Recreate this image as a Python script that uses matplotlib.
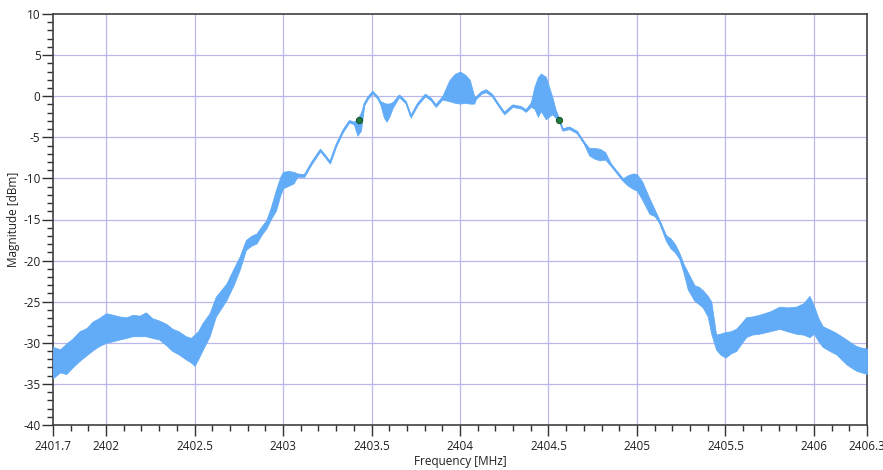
import numpy as np
import matplotlib
matplotlib.use("Agg")
import matplotlib.pyplot as plt
from matplotlib.ticker import MultipleLocator, FixedLocator

plt.rcParams['font.family'] = ['Open Sans', 'DejaVu Sans']
plt.rcParams['axes.unicode_minus'] = False

# spectrum trace: frequency, upper and lower edge of the noisy band
freq = [2401.700, 2401.740, 2401.775, 2401.810, 2401.850, 2401.890, 2401.925, 2401.960,
        2402.000, 2402.040, 2402.075, 2402.115, 2402.150, 2402.190, 2402.225, 2402.260,
        2402.300, 2402.340, 2402.375, 2402.410, 2402.450, 2402.480, 2402.500, 2402.520,
        2402.545, 2402.585, 2402.620, 2402.650, 2402.680, 2402.720, 2402.755, 2402.790,
        2402.820, 2402.850, 2402.880, 2402.905, 2402.930, 2402.960, 2402.985, 2403.000,
        2403.030, 2403.060, 2403.080, 2403.120, 2403.160, 2403.210, 2403.240, 2403.265,
        2403.300, 2403.340, 2403.374, 2403.400, 2403.420, 2403.440, 2403.459, 2403.480,
        2403.505, 2403.534, 2403.550, 2403.570, 2403.585, 2403.600, 2403.620, 2403.656,
        2403.694, 2403.722, 2403.760, 2403.803, 2403.835, 2403.863, 2403.900, 2403.940,
        2403.970, 2404.000, 2404.030, 2404.055, 2404.080, 2404.090, 2404.120, 2404.146,
        2404.180, 2404.220, 2404.250, 2404.297, 2404.344, 2404.372, 2404.400, 2404.420,
        2404.440, 2404.457, 2404.485, 2404.520, 2404.540, 2404.560, 2404.580, 2404.617,
        2404.660, 2404.700, 2404.730, 2404.760, 2404.790, 2404.820, 2404.853, 2404.890,
        2404.920, 2404.950, 2404.980, 2405.000, 2405.030, 2405.070, 2405.100, 2405.126,
        2405.164, 2405.190, 2405.215, 2405.240, 2405.265, 2405.287, 2405.325, 2405.350,
        2405.372, 2405.400, 2405.420, 2405.447, 2405.470, 2405.500, 2405.530, 2405.560,
        2405.590, 2405.617, 2405.650, 2405.690, 2405.750, 2405.806, 2405.850, 2405.900,
        2405.940, 2405.975, 2406.000, 2406.025, 2406.050, 2406.090, 2406.126, 2406.155,
        2406.183, 2406.210, 2406.240, 2406.270, 2406.300]
upper = [-30.5, -30.8, -30.1, -29.5, -28.6, -28.2, -27.4, -27.0,
         -26.4, -26.6, -26.8, -26.9, -26.6, -26.7, -26.3, -27.0,
         -27.3, -27.7, -28.3, -28.6, -29.2, -29.4, -29.0, -28.6,
         -27.6, -26.4, -24.4, -23.6, -22.8, -21.0, -19.5, -17.5,
         -17.0, -16.7, -15.8, -15.1, -13.6, -11.4, -9.8, -9.2,
         -9.1, -9.2, -9.4, -9.5, -8.0, -6.4, -7.2, -7.9,
         -5.8, -4.0, -2.9, -3.1, -2.8, -2.0, -0.8, 0.0,
         0.65, 0.0, -0.6, -0.8, -0.9, -0.9, -0.7, 0.2,
         -0.6, -2.3, -0.8, 0.3, -0.2, -1.0, 0.0, 1.95,
         2.7, 3.0, 2.6, 2.0, 0.0, -0.05, 0.6, 0.85,
         0.3, -1.0, -1.9, -1.0, -1.2, -1.6, -0.8, 1.1,
         2.3, 2.75, 2.35, 0.0, -1.6, -2.7, -3.9, -3.7,
         -4.2, -5.5, -6.3, -6.3, -6.4, -6.8, -8.2, -9.2,
         -10.0, -9.6, -9.4, -9.5, -10.4, -12.4, -13.8, -15.0,
         -16.9, -17.3, -18.0, -19.1, -20.5, -21.4, -23.0, -23.2,
         -23.6, -24.3, -25.0, -29.0, -28.9, -28.7, -28.6, -28.3,
         -27.6, -26.9, -26.8, -26.6, -26.2, -25.6, -25.7, -25.6,
         -25.2, -24.3, -25.5, -27.0, -28.0, -28.4, -28.8, -29.2,
         -29.6, -30.0, -30.4, -30.6, -30.7]
lower = [-34.3, -33.6, -33.8, -33.0, -32.2, -31.5, -30.9, -30.4,
         -30.0, -29.8, -29.6, -29.4, -29.2, -29.2, -29.2, -29.4,
         -29.6, -30.3, -31.0, -31.4, -32.0, -32.4, -32.8, -32.0,
         -30.9, -29.2, -26.8, -25.8, -24.8, -23.0, -21.1, -18.7,
         -18.2, -17.9, -16.8, -16.1, -15.0, -13.9, -12.0, -11.2,
         -10.9, -10.6, -9.8, -9.8, -8.3, -6.7, -7.5, -8.2,
         -6.1, -4.3, -3.2, -3.4, -4.8, -4.2, -1.1, -0.3,
         0.35, -0.3, -1.0, -2.6, -3.1, -2.5, -1.4, -0.1,
         -0.9, -2.6, -1.1, 0.0, -0.5, -1.3, -0.4, -0.6,
         -0.8, -0.9, -0.8, -0.9, -0.9, -0.35, 0.3, 0.5,
         0.0, -1.3, -2.2, -1.3, -1.5, -1.9, -1.3, -1.5,
         -2.5, -1.8, -2.8, -2.2, -2.6, -3.0, -4.2, -4.0,
         -4.5, -5.8, -7.2, -7.6, -7.8, -7.7, -8.5, -9.5,
         -10.3, -10.9, -11.3, -11.5, -12.6, -14.3, -14.6, -15.4,
         -17.6, -18.5, -19.0, -19.8, -21.6, -23.5, -24.9, -25.3,
         -25.7, -26.8, -28.9, -30.8, -31.4, -31.8, -31.3, -31.0,
         -30.1, -29.3, -29.0, -28.9, -28.6, -28.3, -28.6, -28.9,
         -29.0, -29.3, -28.9, -29.8, -30.5, -31.0, -31.4, -32.0,
         -32.6, -33.0, -33.4, -33.6, -33.8]

# the two green markers
marker_f = [2403.43, 2404.56]
marker_v = [-2.9, -2.85]

x_ticks = [2401.7, 2402, 2402.5, 2403, 2403.5, 2404, 2404.5, 2405, 2405.5, 2406, 2406.3]
x_labels = ['2401.7', '2402', '2402.5', '2403', '2403.5', '2404', '2404.5',
            '2405', '2405.5', '2406', '2406.3']

trace_col = '#62abf7'
grid_col = '#b8b8ec'

fig = plt.figure(figsize=(8.83, 4.70), dpi=100)
ax = fig.add_axes([53 / 883, 45 / 470, 814 / 883, 411 / 470])

f = np.array(freq)
up = np.array(upper)
lo = np.array(lower)
# solid band for the noise, plus a thin centre line so the smooth parts still show
ax.fill_between(f, lo, up, color=trace_col, lw=0.6, edgecolor=trace_col, zorder=3)
ax.plot(f, (up + lo) / 2, color=trace_col, lw=1.1, zorder=3)

ax.plot(marker_f, marker_v, 'o', ms=4.5, color='#1f7a3c', mec='#145028', mew=0.7, zorder=5)

ax.set_xlim(2401.7, 2406.3)
ax.set_ylim(-40, 10)

ax.xaxis.set_major_locator(FixedLocator(x_ticks))
ax.set_xticklabels(x_labels)
ax.xaxis.set_minor_locator(MultipleLocator(0.1))
ax.yaxis.set_major_locator(MultipleLocator(5))
ax.yaxis.set_minor_locator(MultipleLocator(1))

# grid only at round frequencies / 5 dB steps
for gx in [2402, 2402.5, 2403, 2403.5, 2404, 2404.5, 2405, 2405.5, 2406]:
    ax.axvline(gx, color=grid_col, lw=0.9, zorder=1)
for gy in range(-35, 10, 5):
    ax.axhline(gy, color=grid_col, lw=0.9, zorder=1)

ax.tick_params(axis='both', which='major', direction='out', length=8, width=1,
               color='#303030', labelsize=8.5, labelcolor='#202020')
ax.tick_params(axis='both', which='minor', direction='out', length=4.5, width=1,
               color='#303030')
ax.tick_params(axis='y', which='major', pad=1)
ax.tick_params(axis='x', which='major', pad=3)

for sp in ax.spines.values():
    sp.set_color('#404040')
    sp.set_linewidth(1.2)

ax.set_xlabel('Frequency [MHz]', fontsize=8.5, color='#202020', labelpad=1)
ax.set_ylabel('Magnitude [dBm]', fontsize=8.5, color='#202020', labelpad=2)

fig.savefig('out.png', dpi=100)
